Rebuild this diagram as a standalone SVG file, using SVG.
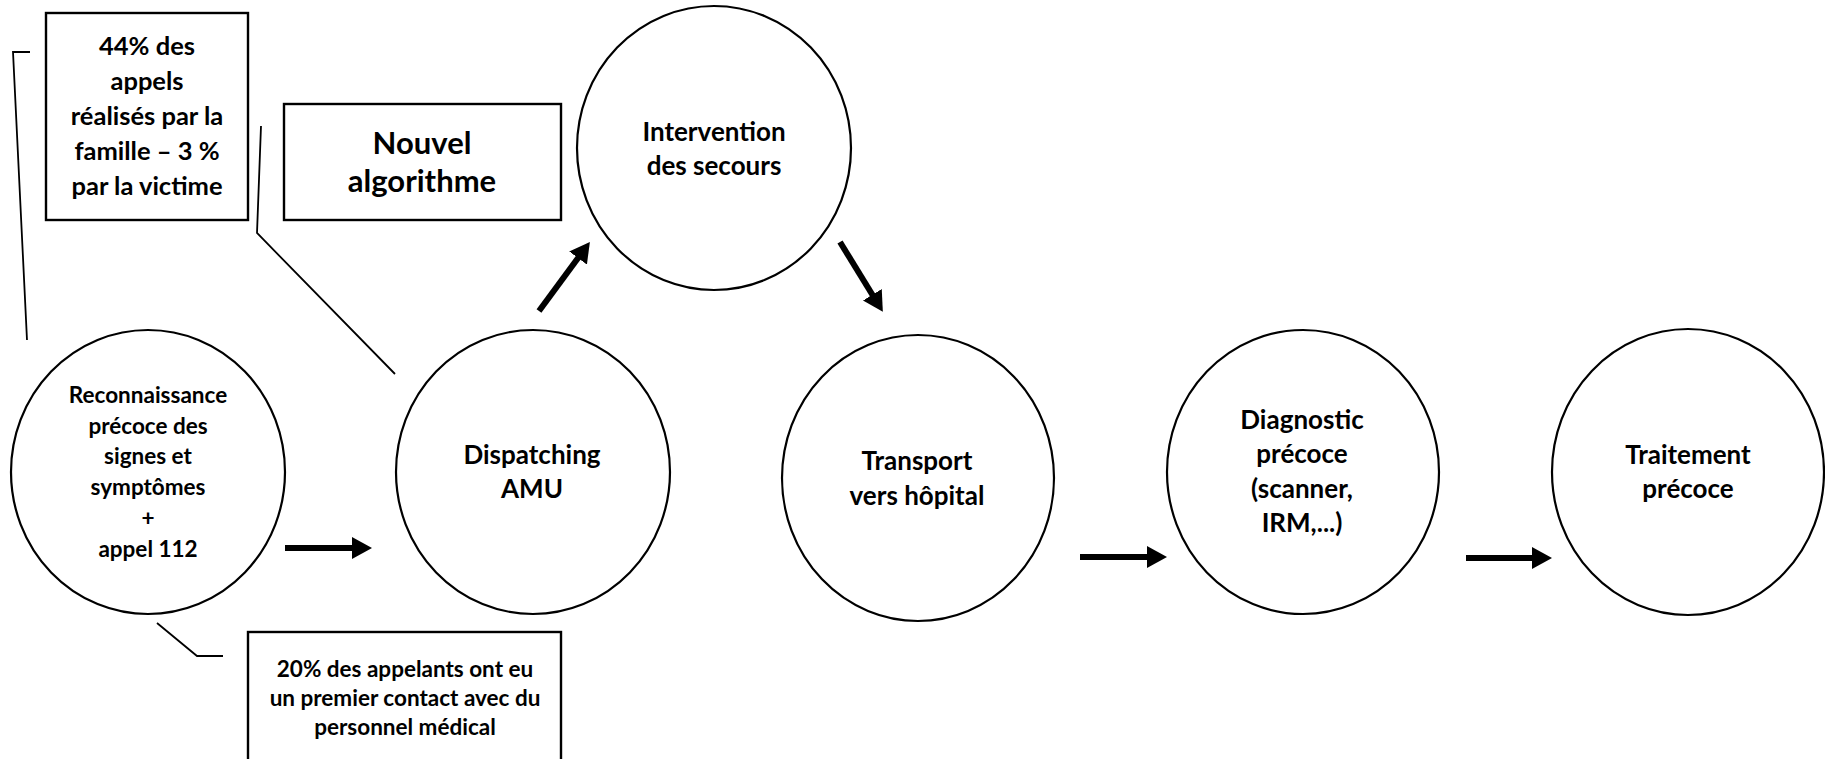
<svg xmlns="http://www.w3.org/2000/svg" width="1825" height="759" viewBox="0 0 1825 759">
<style>
.node{fill:#fff;stroke:#000;stroke-width:2.2}
.box{fill:#fff;stroke:#000;stroke-width:2.4}
.t{font-family:Lato,"Liberation Sans",sans-serif;font-weight:bold;fill:#000;text-anchor:middle}
.s22{font-size:22.5px}
.s25{font-size:25.5px}
.s26{font-size:26px}
.s31{font-size:31px}
.call{fill:none;stroke:#000;stroke-width:1.8}
.arr{stroke:#000;stroke-width:6;fill:none;marker-end:url(#ah)}
</style>
<defs>
<marker id="ah" markerUnits="userSpaceOnUse" viewBox="0 0 20 22" refX="5" refY="11" markerWidth="20" markerHeight="22" orient="auto">
<path d="M0,0 L20,11 L0,22 Z" fill="#000"/>
</marker>
</defs>
<rect width="1825" height="759" fill="#fff"/>

<g id="connectors">
<polyline class="call" points="30,52 13,52 27,340"/>
<polyline class="call" points="261,126 257,233 395,374"/>
<polyline class="call" points="157,623 197,656 223,656"/>
<line class="arr" x1="285" y1="548" x2="357" y2="548"/>
<line class="arr" x1="539" y1="311" x2="581" y2="254"/>
<line class="arr" x1="840" y1="242" x2="875" y2="299"/>
<line class="arr" x1="1080" y1="557" x2="1152" y2="557"/>
<line class="arr" x1="1466" y1="558" x2="1537" y2="558"/>
</g>

<g id="note-appels">
<rect class="box" x="46" y="13" width="202" height="207"/>
<text class="t s25" x="147" y="55">44% des</text>
<text class="t s25" x="147" y="90">appels</text>
<text class="t s25" x="147" y="125">réalisés par la</text>
<text class="t s25" x="147" y="160">famille – 3 %</text>
<text class="t s25" x="147" y="195">par la victime</text>
</g>

<g id="note-algorithme">
<rect class="box" x="284" y="104" width="277" height="116"/>
<text class="t s31" x="422" y="154">Nouvel</text>
<text class="t s31" x="422" y="192">algorithme</text>
</g>

<g id="note-appelants">
<rect class="box" x="248" y="632" width="313" height="140"/>
<text class="t s22" x="405" y="677">20% des appelants ont eu</text>
<text class="t s22" x="405" y="706">un premier contact avec du</text>
<text class="t s22" x="405" y="735">personnel médical</text>
</g>

<g id="node-reconnaissance">
<ellipse class="node" cx="148" cy="472" rx="137" ry="142"/>
<text class="t s22" x="148" y="403">Reconnaissance</text>
<text class="t s22" x="148" y="434">précoce des</text>
<text class="t s22" x="148" y="464">signes et</text>
<text class="t s22" x="148" y="495">symptômes</text>
<text class="t s22" x="148" y="526">+</text>
<text class="t s22" x="148" y="557">appel 112</text>
</g>

<g id="node-dispatching">
<ellipse class="node" cx="533" cy="472" rx="137" ry="142"/>
<text class="t s26" x="532" y="464">Dispatching</text>
<text class="t s26" x="532" y="498">AMU</text>
</g>

<g id="node-intervention">
<ellipse class="node" cx="714" cy="148" rx="137" ry="142"/>
<text class="t s26" x="714" y="141">Intervention</text>
<text class="t s26" x="714" y="175">des secours</text>
</g>

<g id="node-transport">
<ellipse class="node" cx="918" cy="478" rx="136" ry="143"/>
<text class="t s26" x="917" y="470">Transport</text>
<text class="t s26" x="917" y="505">vers hôpital</text>
</g>

<g id="node-diagnostic">
<ellipse class="node" cx="1303" cy="472" rx="136" ry="142"/>
<text class="t s26" x="1302" y="429">Diagnostic</text>
<text class="t s26" x="1302" y="463">précoce</text>
<text class="t s26" x="1302" y="498">(scanner,</text>
<text class="t s26" x="1302" y="532">IRM,...)</text>
</g>

<g id="node-traitement">
<ellipse class="node" cx="1688" cy="472" rx="136" ry="143"/>
<text class="t s26" x="1688" y="464">Traitement</text>
<text class="t s26" x="1688" y="498">précoce</text>
</g>
</svg>
